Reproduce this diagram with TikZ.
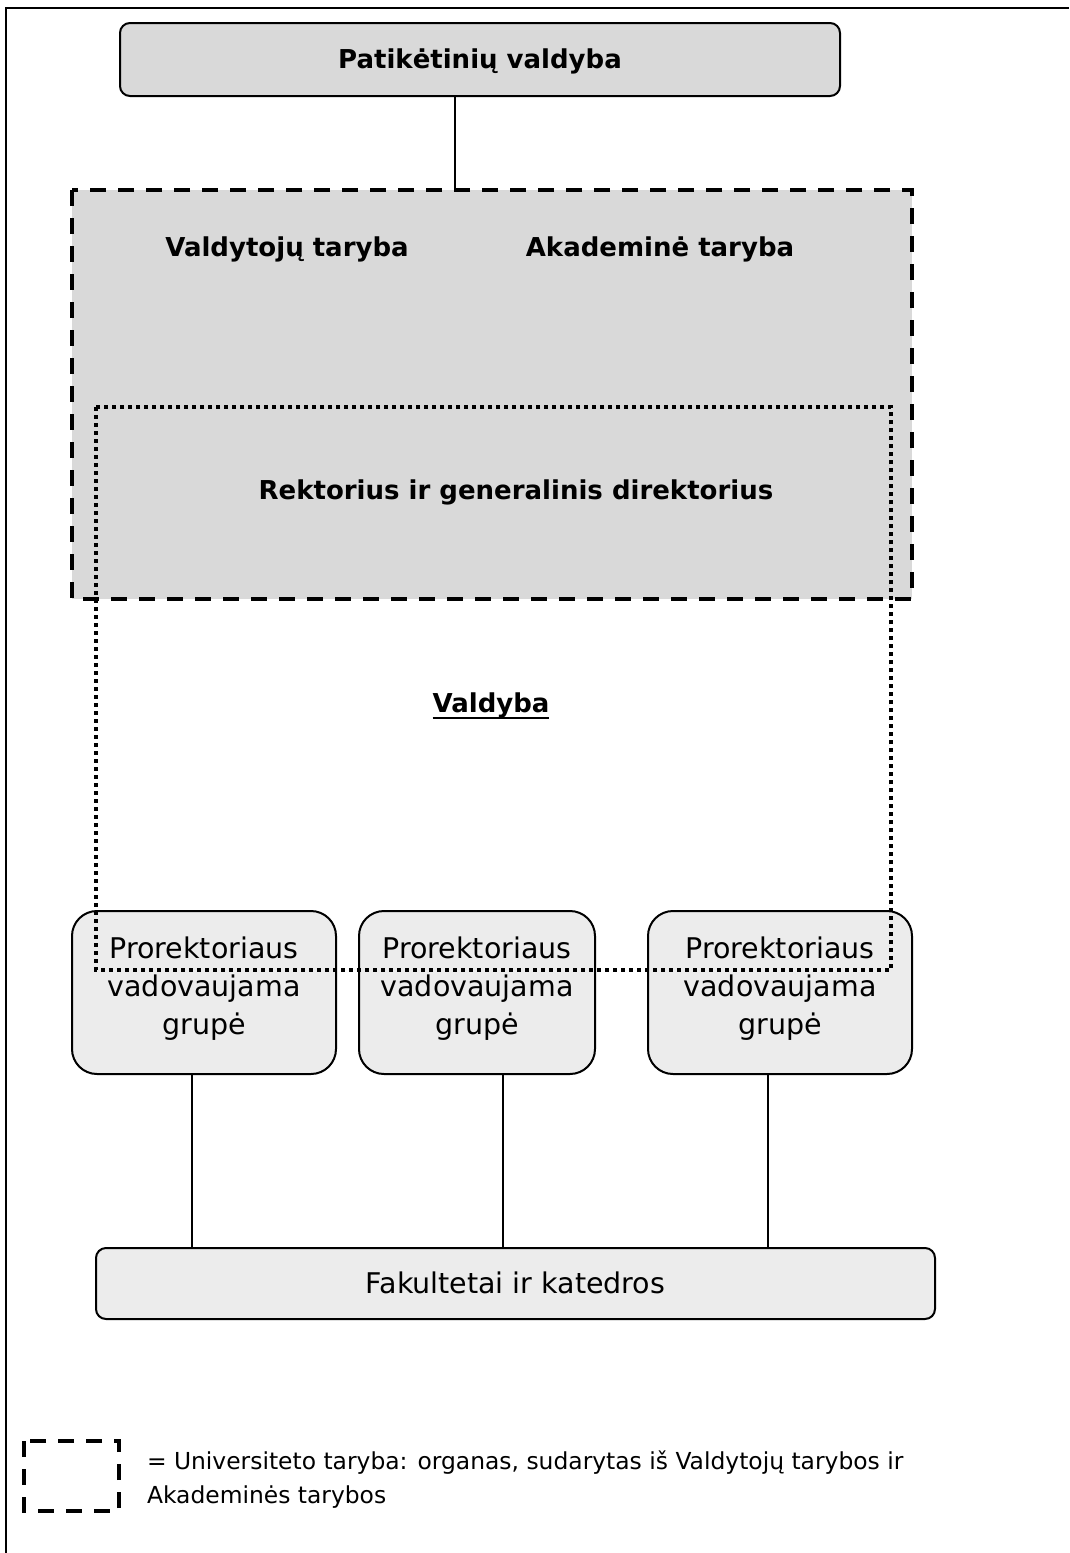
\documentclass[tikz,border=0pt]{standalone}
\usepackage{fontspec}
\setmainfont{DejaVu Sans}
\definecolor{boardgray}{HTML}{D9D9D9}
\definecolor{unitgray}{HTML}{ECECEC}
\begin{document}
\begin{tikzpicture}[x=1pt,y=-1pt,
  every node/.style={outer sep=0pt,inner sep=0pt},
  headfont/.style={font=\fontsize{26}{32}\selectfont\bfseries},
  bodyfont/.style={font=\fontsize{28.5}{38}\selectfont},
  legendfont/.style={font=\fontsize{23.4}{34}\selectfont},
  topbox/.style={draw,line width=2pt,fill=boardgray,rounded corners=10pt},
  groupbox/.style={draw,line width=2pt,fill=unitgray,rounded corners=25pt,
                   minimum width=#1,minimum height=163pt},
  unitbox/.style={draw,line width=2pt,fill=unitgray,rounded corners=10pt},
  councilline/.style={line width=4pt,dash pattern=on 16pt off 12pt},
  boardline/.style={line width=4pt,dash pattern=on 4pt off 4pt},
  link/.style={line width=1.6pt}]
\useasboundingbox (0,0) rectangle (1069,1553);

% page frame (top and left edges)
\draw[line width=2.5pt] (6,1553) -- (6,8) -- (1069,8);

% board of trustees
\node[topbox,minimum width=720pt,minimum height=73pt] (trust) at (480,59.5) {};
\node[headfont] (trusttxt) at (480,61) {Patikėtinių valdyba};

% university council area
\node[fill=boardgray,minimum width=840pt,minimum height=409pt] (council) at (492,394.5) {};
\coordinate (tl) at (455,0);
\draw[link] (tl |- trust.south) -- (tl |- council.north);

\node[headfont] (gov) at (287,249.5) {Valdytojų taryba};
\node[headfont] (acad) at (660,249.5) {Akademinė taryba};
\node[headfont] (rect) at (516,492) {Rektorius ir generalinis direktorius};
\node[headfont] (mgmt) at (491,705) {Valdyba};
\draw[line width=2pt] (mgmt.south west) -- (mgmt.south east);

% vice-rector groups
\node[groupbox=264pt] (p1) at (204,992.5) {};
\node[groupbox=236pt] (p2) at (477,992.5) {};
\node[groupbox=264pt] (p3) at (780,992.5) {};
\foreach \n in {p1,p2,p3}
  \node[bodyfont,align=center] (\n txt) at ([yshift=3.5pt]\n.center)
    {Prorektoriaus\\vadovaujama\\grupė};

% faculties
\node[unitbox,minimum width=839pt,minimum height=71pt] (fac) at (515.5,1283.5) {};
\node[bodyfont] (factxt) at (515.5,1283) {Fakultetai ir katedros};

\coordinate (c1) at (192,0);
\coordinate (c2) at (503,0);
\coordinate (c3) at (768,0);
\draw[link] (c1 |- p1.south) -- (c1 |- fac.north);
\draw[link] (c2 |- p2.south) -- (c2 |- fac.north);
\draw[link] (c3 |- p3.south) -- (c3 |- fac.north);

% outlines drawn last so they stay on top
\draw[councilline] (council.north west) rectangle (council.south east);
\draw[boardline] (96,407) rectangle (891,970);

% legend
\draw[councilline,line width=3.5pt] (24,1441) rectangle (119,1511);
\node[legendfont,anchor=west] (leg1) at (147,1463)
  {= Universiteto taryba: organas, sudarytas iš Valdytojų tarybos ir};
\node[legendfont,anchor=west] (leg2) at (147,1497)
  {Akademinės tarybos};
\end{tikzpicture}
\end{document}
